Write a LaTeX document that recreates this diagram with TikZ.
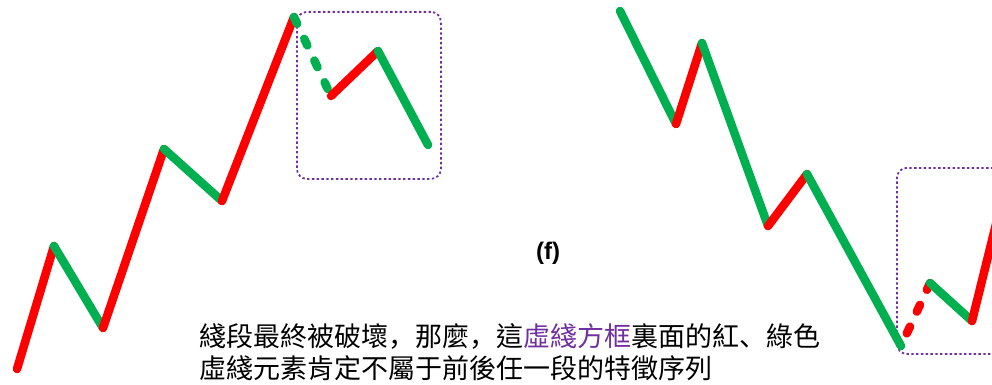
\documentclass[tikz,border=0pt]{standalone}
\usepackage{fontspec}
\newfontfamily\cjk{Noto Sans CJK TC}
\newfontfamily\cjkp{Noto Sans CJK SC}
\newfontfamily\lsans{Liberation Sans}
\definecolor{segred}{HTML}{FF0000}
\definecolor{seggreen}{HTML}{00B050}
\definecolor{boxpurple}{HTML}{7030A0}
\begin{document}
\begin{tikzpicture}[x=1pt,y=-1pt,
  seg/.style={line width=8.5pt,line cap=round,line join=round},
  up/.style={seg,draw=segred},
  down/.style={seg,draw=seggreen},
  dashseg/.style={dash pattern=on 7.5pt off 16.5pt},
  framebox/.style={draw=boxpurple,line width=1.8pt,dash pattern=on 2.4pt off 2.4pt,rounded corners=10pt}]
\useasboundingbox (0,0) rectangle (992,385);
\clip (0,0) rectangle (992,385);
% left series
\coordinate (a0) at (17,369);
\coordinate (a1) at (54,246);
\coordinate (a2) at (103,328);
\coordinate (a3) at (164,149);
\coordinate (a4) at (222,201);
\coordinate (a5) at (294,17);
\coordinate (a6) at (331,96);
\coordinate (a7) at (378,51);
\coordinate (a8) at (428,145);
\node[framebox,minimum width=144pt,minimum height=167pt,anchor=north west,inner sep=0] (boxL) at (296,11) {};
\draw[up] (a0) -- (a1);
\draw[down] (a1) -- (a2);
\draw[up] (a2) -- (a3);
\draw[down] (a3) -- (a4);
\draw[up] (a4) -- (a5);
\draw[down,dashseg] (a5) -- (a6);
\draw[up] (a6) -- (a7);
\draw[down] (a7) -- (a8);
% right series
\coordinate (b0) at (620,11);
\coordinate (b1) at (676,124);
\coordinate (b2) at (702,43);
\coordinate (b3) at (768,226);
\coordinate (b4) at (807,174);
\coordinate (b5) at (901,346);
\coordinate (b6) at (930,283);
\coordinate (b7) at (972,321);
\coordinate (b8) at (997,220);
\node[framebox,minimum width=140pt,minimum height=186pt,anchor=north west,inner sep=0] (boxR) at (896,167) {};
\draw[down] (b0) -- (b1);
\draw[up] (b1) -- (b2);
\draw[down] (b2) -- (b3);
\draw[up] (b3) -- (b4);
\draw[down] (b4) -- (b5);
\draw[up,dashseg] (b6) -- (b5);
\draw[down] (b6) -- (b7);
\draw[up] (b7) -- (b8);
% labels
\node[font=\lsans\bfseries\fontsize{24}{28}\selectfont,inner sep=0] (lab) at (548,253) {(f)};
\node[font=\cjk\fontsize{27}{31}\selectfont,anchor=base west,inner sep=0] (t1) at (199,346) {綫段最終被破壞{\cjkp ，}那麼{\cjkp ，}這\textcolor{boxpurple}{虛綫方框}裏面的紅{\cjkp 、}綠色};
\node[font=\cjk\fontsize{27}{31}\selectfont,anchor=base west,inner sep=0] (t2) at (199,378) {虛綫元素肯定不屬于前後任一段的特徵序列};
\end{tikzpicture}
\end{document}
